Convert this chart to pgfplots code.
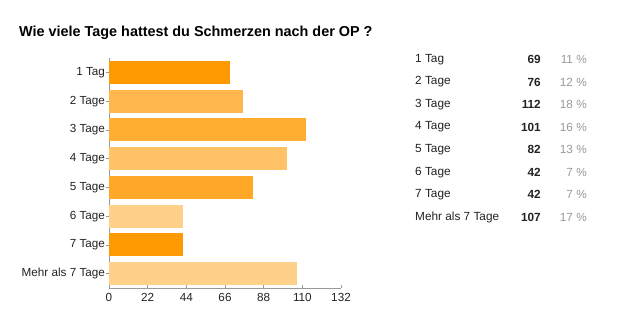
\documentclass[border=0pt]{standalone}
\usepackage{pgfplots}
\pgfplotsset{compat=1.18}
\usepackage{fontspec}
\setmainfont{Liberation Sans}
\definecolor{cA}{HTML}{FF9900}
\definecolor{cB}{HTML}{FFB74D}
\definecolor{cC}{HTML}{FFAD33}
\definecolor{cD}{HTML}{FFC266}
\definecolor{cE}{HTML}{FFA726}
\definecolor{cF}{HTML}{FFD08A}
\definecolor{txt}{HTML}{222222}
\definecolor{pct}{HTML}{999999}
\begin{document}
\begin{tikzpicture}[x=1bp,y=1bp]
\useasboundingbox (0,0) rectangle (640,322);
\node[anchor=west,font=\fontsize{14.4bp}{16bp}\selectfont\bfseries,inner sep=0] at (19,289) {Wie viele Tage hattest du Schmerzen nach der OP ?};
\begin{axis}[
  at={(109bp,34bp)}, anchor=south west,
  scale only axis, width=232bp, height=230bp,
  xmin=0, xmax=132, ymin=-0.5, ymax=7.5,
  y dir=reverse,
  axis x line*=bottom, axis y line*=left,
  axis line style={draw=gray!80, line width=0.6pt},
  xtick={0,22,44,66,88,110,132},
  ytick={0,1,2,3,4,5,6,7},
  yticklabels={1 Tag,2 Tage,3 Tage,4 Tage,5 Tage,6 Tage,7 Tage,Mehr als 7 Tage},
  xtick align=inside, ytick align=outside,
  major tick length=3.5bp,
  tick style={draw=gray!80, line width=0.6pt},
  ticklabel style={font=\fontsize{11.7bp}{13bp}\selectfont, text=txt},
  /pgf/number format/assume math mode=true,
  yticklabel style={xshift=3bp},
  xticklabel style={yshift=-2bp},
  clip=false,
]
\addplot[xbar, bar width=23bp, bar shift=0pt, fill=cA, draw=none] coordinates {(69,0)};
\addplot[xbar, bar width=23bp, bar shift=0pt, fill=cB, draw=none] coordinates {(76,1)};
\addplot[xbar, bar width=23bp, bar shift=0pt, fill=cC, draw=none] coordinates {(112,2)};
\addplot[xbar, bar width=23bp, bar shift=0pt, fill=cD, draw=none] coordinates {(101,3)};
\addplot[xbar, bar width=23bp, bar shift=0pt, fill=cE, draw=none] coordinates {(82,4)};
\addplot[xbar, bar width=23bp, bar shift=0pt, fill=cF, draw=none] coordinates {(42,5)};
\addplot[xbar, bar width=23bp, bar shift=0pt, fill=cA, draw=none] coordinates {(42,6)};
\addplot[xbar, bar width=23bp, bar shift=0pt, fill=cF, draw=none] coordinates {(107,7)};
\end{axis}
\begin{scope}[every node/.style={inner sep=0, font=\fontsize{11.8bp}{13bp}\selectfont}]
\foreach \lab/\n/\p [count=\i from 0] in {1 Tag/69/11,2 Tage/76/12,3 Tage/112/18,4 Tage/101/16,5 Tage/82/13,6 Tage/42/7,7 Tage/42/7,Mehr als 7 Tage/107/17}{
  \pgfmathsetmacro{\yy}{322-59.5-22.55*\i}
  \node[anchor=west, text=txt] at (415,\yy) {\lab};
  \node[anchor=east, text=txt, font=\fontsize{11.8bp}{13bp}\selectfont\bfseries] at (541,\yy) {\n};
  \node[anchor=east, text=pct] at (587,\yy) {\p\ \%};
}
\end{scope}
\end{tikzpicture}
\end{document}
